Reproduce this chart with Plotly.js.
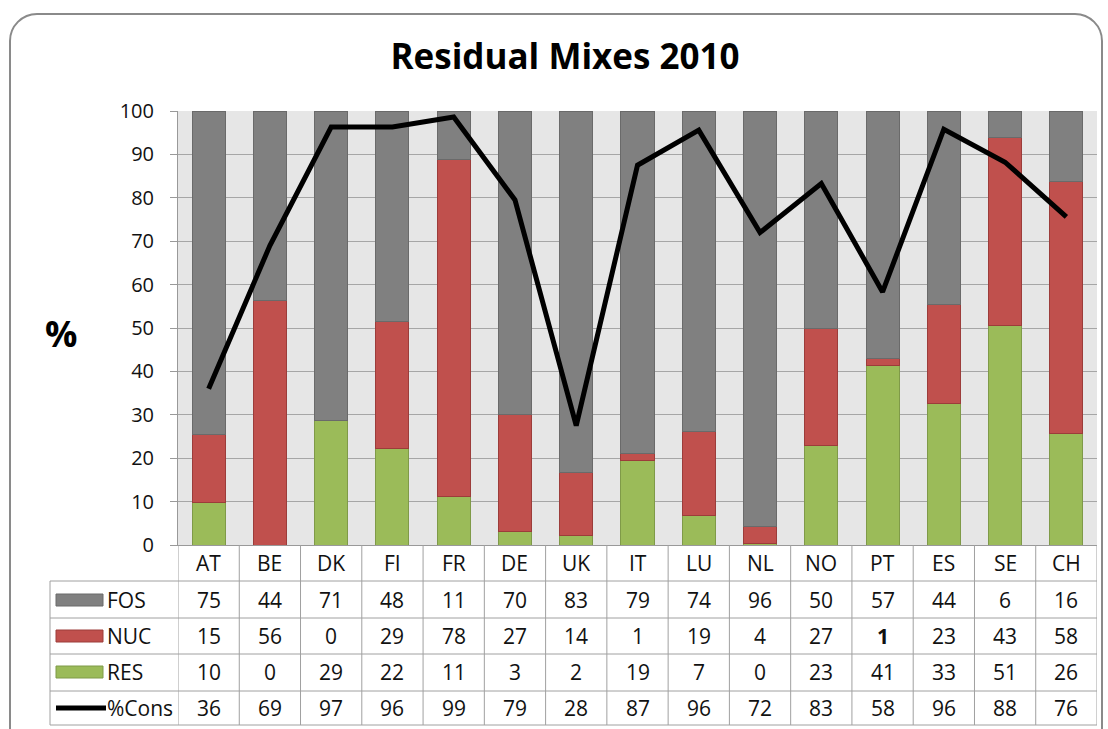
<!DOCTYPE html>
<html><head><meta charset="utf-8">
<script src="https://cdn.plot.ly/plotly-3.0.1.min.js"></script>
<style>
body{margin:0;background:#fff;overflow:hidden}
#frame{position:absolute;left:9px;top:13px;width:1094px;height:760px;border:2px solid #8a8a8a;border-radius:28px;box-sizing:border-box}
#chart{position:absolute;left:0;top:0;width:1108px;height:729px}
</style>
</head><body><div id="frame"></div><div id="chart"></div>
<script>
// Categories
const countries = ['AT','BE','DK','FI','FR','DE','UK','IT','LU','NL','NO','PT','ES','SE','CH'];
// Bar values (%)
const resBar = [9.7, 0, 28.7, 22.3, 11.2, 3.0, 2.2, 19.5, 6.8, 0.3, 23.0, 41.3, 32.5, 50.6, 25.7];
const nucBar = [15.8, 56.3, 0, 29.2, 77.6, 27.0, 14.5, 1.5, 19.4, 4.0, 26.8, 1.7, 23.0, 43.2, 58.1];
const fosBar = [74.5, 43.7, 71.3, 48.5, 11.2, 70.0, 83.3, 79.0, 73.8, 95.7, 50.2, 57.0, 44.5, 6.2, 16.2];
const consLine = [36, 69, 96.3, 96.3, 98.6, 79.5, 27.5, 87.5, 95.6, 72, 83.3, 58.3, 95.8, 88.2, 75.6];
// Values printed in the data table
const tblFOS = ['75','44','71','48','11','70','83','79','74','96','50','57','44','6','16'];
const tblNUC = ['15','56','0','29','78','27','14','1','19','4','27','<b>1</b>','23','43','58'];
const tblRES = ['10','0','29','22','11','3','2','19','7','0','23','41','33','51','26'];
const tblCons = ['36','69','97','96','99','79','28','87','96','72','83','58','96','88','76'];
const rowNames = ['FOS','NUC','RES','%Cons'];

const colFOS = '#808080', colNUC = '#c0504d', colRES = '#9bbb59';
const FONT = '"Open Sans", sans-serif';
const TXT = '#111';

// pixel -> paper helpers (plot area: x 178..1097, y 111..545)
const L = 178, R = 1097, T = 111, B = 545;
const px = p => (p - L) / (R - L);
const py = p => (B - p) / (B - T);

const traces = [
  {type:'bar', name:'RES', x:countries, y:resBar, marker:{color:colRES, line:{color:'#7f9a48', width:1}}},
  {type:'bar', name:'NUC', x:countries, y:nucBar, marker:{color:colNUC, line:{color:'#9c3c3a', width:1}}},
  {type:'bar', name:'FOS', x:countries, y:fosBar, marker:{color:colFOS, line:{color:'#6a6a6a', width:1}}},
  {type:'scatter', mode:'lines', name:'%Cons', x:countries, y:consLine,
   line:{color:'#000', width:5, shape:'linear'}}
];

const shapes = [];
const annotations = [];
const lineCol = '#a0a0a0';
const rowLines = [581, 618, 654, 691, 725];
const rowCenters = [600, 636, 672, 708];
for (let i = 0; i <= countries.length; i++) {
  shapes.push({type:'line', xref:'x', yref:'paper', x0:i-0.5, x1:i-0.5, y0:0, y1:py(725), line:{color:lineCol, width:1}});
}
shapes.push({type:'line', xref:'paper', yref:'paper', x0:px(50), x1:px(50), y0:py(581), y1:py(725), line:{color:lineCol, width:1}});
rowLines.forEach(r => shapes.push({type:'line', xref:'paper', yref:'paper', x0:px(50), x1:1, y0:py(r), y1:py(r), line:{color:lineCol, width:1}}));
const keyCols = [[colFOS,'#6a6a6a'],[colNUC,'#9c3c3a'],[colRES,'#7f9a48']];
keyCols.forEach((c, k) => {
  shapes.push({type:'rect', xref:'paper', yref:'paper', x0:px(56), x1:px(103), y0:py(rowCenters[k]-6), y1:py(rowCenters[k]+6), fillcolor:c[0], line:{color:c[1], width:1}});
});
shapes.push({type:'line', xref:'paper', yref:'paper', x0:px(56), x1:px(106), y0:py(708), y1:py(708), line:{color:'#000', width:5}});

rowNames.forEach((n, k) => {
  annotations.push({xref:'paper', yref:'paper', x:px(105), y:py(rowCenters[k]), xanchor:'left', yanchor:'middle', text:n, showarrow:false, font:{family:FONT, size:21, color:TXT}});
});
const tbl = [tblFOS, tblNUC, tblRES, tblCons];
tbl.forEach((row, k) => {
  row.forEach((v, i) => {
    annotations.push({xref:'x', yref:'paper', x:countries[i], y:py(rowCenters[k]), xanchor:'center', yanchor:'middle', text:v, showarrow:false, font:{family:FONT, size:21, color:TXT}});
  });
});
countries.forEach(c => annotations.push({xref:'x', yref:'paper', x:c, y:py(563), xanchor:'center', yanchor:'middle', text:c, showarrow:false, font:{family:FONT, size:21, color:TXT}}));
annotations.push({xref:'paper', yref:'paper', x:px(61), y:py(333), xanchor:'center', yanchor:'middle', text:'<b>%</b>', showarrow:false, font:{family:FONT, size:36, color:'#000'}});

const layout = {
  width:1108, height:729,
  margin:{l:L, r:1108-R, t:T, b:729-B, pad:0},
  paper_bgcolor:'rgba(0,0,0,0)', plot_bgcolor:'#e6e6e6',
  barmode:'stack', bargap:0.46, showlegend:false,
  title:{text:'<b>Residual Mixes 2010</b>', x:565/1108, xanchor:'center', y:1-57/729, yanchor:'middle', font:{family:FONT, size:35, color:'#000'}},
  xaxis:{type:'category', showticklabels:false, ticks:'', showgrid:false, showline:true, linecolor:'#999', linewidth:1, range:[-0.5, 14.5], fixedrange:true},
  yaxis:{range:[0,100], dtick:10, tick0:0, ticks:'outside', ticklen:7, tickcolor:'#999', showline:true, linecolor:'#999', linewidth:1,
         ticklabelstandoff:12,
         gridcolor:'#a6a6a6', gridwidth:1, zeroline:false, tickfont:{family:FONT, size:20, color:TXT}, fixedrange:true},
  shapes, annotations
};
Plotly.newPlot('chart', traces, layout, {displayModeBar:false, staticPlot:true});
</script>
</body></html>
